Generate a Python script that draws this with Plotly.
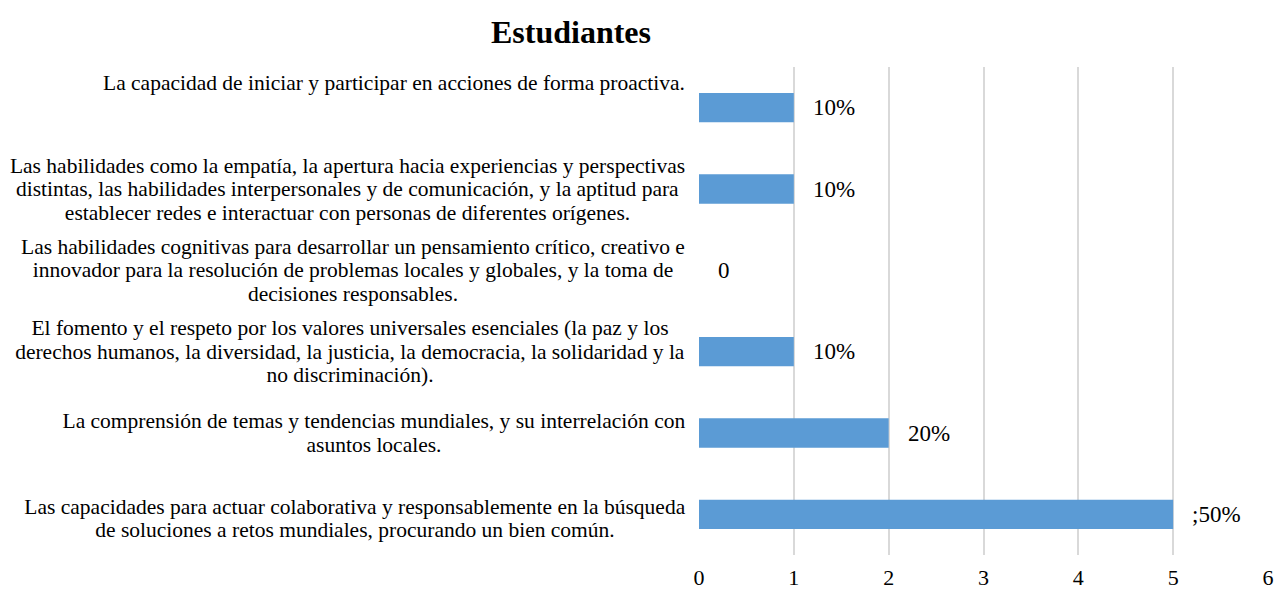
import plotly.graph_objects as go

categories = [
    "La capacidad de iniciar y participar en acciones de forma proactiva.",
    "Las habilidades como la empatía, la apertura hacia experiencias y perspectivas<br>distintas, las habilidades interpersonales y de comunicación, y la aptitud para<br>establecer redes e interactuar con personas de diferentes orígenes.",
    "Las habilidades cognitivas para desarrollar un pensamiento crítico, creativo e<br>innovador para la resolución de problemas locales y globales, y la toma de<br>decisiones responsables.",
    "El fomento y el respeto por los valores universales esenciales (la paz y los<br>derechos humanos, la diversidad, la justicia, la democracia, la solidaridad y la<br>no discriminación).",
    "La comprensión de temas y tendencias mundiales, y su interrelación con<br>asuntos locales.",
    "Las capacidades para actuar colaborativa y responsablemente en la búsqueda<br>de soluciones a retos mundiales, procurando un bien común.",
]
values = [1, 1, 0, 1, 2, 5]
value_labels = ["10%", "10%", "0", "10%", "20%", ";50%"]
x_ticks = [0, 1, 2, 3, 4, 5, 6]
title_text = "Estudiantes"

FONT = "Liberation Serif, Times New Roman, serif"
CAT_SIZE = 21.5
LINE_GAP = 23.5  # pixel distance between label lines
# width (px) of each label block, so its lines are centred like in the reference
BLOCK_W = [586, 679, 668, 674, 626, 664]
LABEL_SHIFT = [25, 0, 0, 0, 0, -4]

W, H = 1277, 592

fig = go.Figure()
fig.add_trace(go.Bar(
    x=values, y=categories, orientation="h",
    marker=dict(color="#5B9BD5", line=dict(width=0)),
    width=0.36, hoverinfo="skip",
))

annotations = []
for cat, sh, bw in zip(categories, LABEL_SHIFT, BLOCK_W):
    lines = cat.split("<br>")
    n = len(lines)
    c = (n - 1) / 2
    for k, ln in enumerate(lines):
        annotations.append(dict(
            x=0, xref="paper", y=cat, yref="y", text=ln, showarrow=False,
            xanchor="right", yanchor="middle", align="center", width=bw,
            xshift=-10, yshift=sh - (k - c) * LINE_GAP,
            font=dict(family=FONT, size=CAT_SIZE, color="#000000"),
        ))
for cat, v, lab in zip(categories, values, value_labels):
    annotations.append(dict(
        x=v, xref="x", y=cat, yref="y", text=lab, showarrow=False,
        xanchor="left", yanchor="middle", xshift=17,
        font=dict(family=FONT, size=23, color="#000000"),
    ))

fig.update_layout(
    width=W, height=H,
    margin=dict(l=699, r=9, t=67, b=37, autoexpand=False),
    paper_bgcolor="white", plot_bgcolor="white",
    showlegend=False,
    title=dict(text="<b>" + title_text + "</b>", x=571 / W, xanchor="center",
               xref="container", y=1 - 32 / H, yanchor="middle", yref="container",
               font=dict(family=FONT, size=32, color="#000000")),
    annotations=annotations,
    xaxis=dict(range=[0, 6], tickvals=x_ticks, showgrid=True, gridcolor="#D9D9D9",
               gridwidth=2, zeroline=False, showline=False, automargin=False,
               ticks="outside", ticklen=3, tickcolor="rgba(0,0,0,0)",
               tickfont=dict(family=FONT, size=22, color="#000000")),
    yaxis=dict(type="category", autorange="reversed", showticklabels=False,
               showgrid=False, zeroline=False, showline=False, automargin=False),
    bargap=0.64,
)

fig.write_html(
    "out.html",
    config={"displayModeBar": False},
    post_script="document.body.style.margin='0';document.body.style.overflow='hidden';",
)
